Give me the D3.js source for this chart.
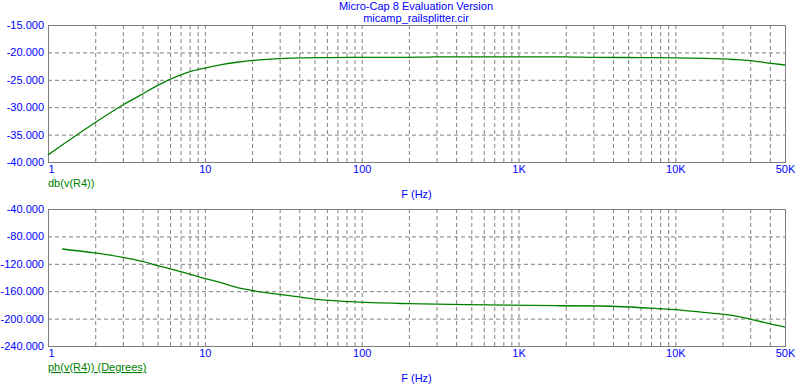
<!DOCTYPE html>
<html>
<head>
<meta charset="utf-8">
<script src="https://cdn.jsdelivr.net/npm/d3@7"></script>
<style>
  body { margin: 0; background: #fff; }
  svg text { font-family: "Liberation Sans", Arial, sans-serif; font-size: 11px; }
</style>
</head>
<body>
<svg id="chart" width="811" height="389"></svg>
<script>
'use strict';

// magnitude trace, db(v(R4))
var magFreq = [1, 1.5, 2.15, 3, 3.86, 4.47, 5.71, 8.05, 10, 13, 16, 22.5, 35, 60, 100, 176, 300, 1000, 2000, 3000, 6000, 10000, 15100, 23500, 30000, 38400, 50000];
var magDb = [-38.7, -35.2, -32.2, -29.6, -27.85, -26.8, -25.2, -23.5, -22.85, -22.2, -21.8, -21.35, -21.05, -20.95, -20.9, -20.9, -20.8, -20.8, -20.8, -20.9, -20.95, -21.0, -21.1, -21.3, -21.5, -21.9, -22.3];

// phase trace, ph(v(R4))
var phFreq = [1.23, 2, 3, 4.06, 4.93, 6.95, 9.3, 12, 17, 20, 25, 40.5, 54.3, 84.3, 199, 468, 1755, 3314, 8000, 10000, 15100, 21300, 30000, 39700, 50000];
var phDeg = [-98.4, -104.2, -110.6, -116.9, -122.3, -131.1, -139.3, -146, -156, -159, -162.5, -168.5, -172.4, -175.3, -178.2, -179.7, -181.2, -181.6, -185.6, -187, -191, -194.3, -200.6, -207.4, -212.3];

var xTickValues = [1, 10, 100, 1000, 10000, 50000];
var xTickLabels = ["1", "10", "100", "1K", "10K", "50K"];
var magTicks = [-15, -20, -25, -30, -35, -40];
var phTicks = [-40, -80, -120, -160, -200, -240];

var svg = d3.select("#chart");
var left = 48, right = 785;
var blue = "#0000ff", green = "#008000", gray = "#808080";

var x = d3.scaleLog().domain([1, 50000]).range([left, right]);

// minor grid positions 2..9 per decade, up to 40K
var gridF = [];
[1, 10, 100, 1000, 10000].forEach(function(d) {
  for (var k = 1; k <= 9; k++) {
    var f = d * k;
    if (f > 1 && f < 50000) gridF.push(f);
  }
});

var panel = function(top, bottom, domain, ticks, freq, vals, label, underline) {
  var y = d3.scaleLinear().domain(domain).range([top, bottom]);
  var w = right - left, h = bottom - top;

  // vertical grid
  svg.append("g")
    .attr("transform", "translate(0," + bottom + ")")
    .call(d3.axisBottom(x).tickValues(gridF).tickSize(-h).tickFormat(""))
    .call(function(g) { g.select(".domain").remove(); })
    .selectAll("line")
    .attr("stroke", gray)
    .attr("stroke-dasharray", "4,3");

  // horizontal grid + y labels
  svg.append("g")
    .attr("transform", "translate(" + left + ",0)")
    .call(d3.axisLeft(y).tickValues(ticks).tickSize(-w).tickPadding(4)
      .tickFormat(function(d) { return d.toFixed(3); }))
    .call(function(g) {
      g.select(".domain").remove();
      g.selectAll("line")
        .attr("stroke", gray)
        .attr("stroke-dasharray", "4,3");
      g.selectAll("text").attr("fill", blue).style("font-size", "11px")
        .style("font-family", '"Liberation Sans", Arial, sans-serif');
    });

  // frame
  svg.append("rect")
    .attr("x", left + 0.5).attr("y", top + 0.5)
    .attr("width", w).attr("height", h)
    .attr("fill", "none").attr("stroke", gray);

  // x labels
  svg.append("g")
    .attr("transform", "translate(0," + bottom + ")")
    .call(d3.axisBottom(x).tickValues(xTickValues).tickSize(0).tickPadding(3)
      .tickFormat(function(d, i) { return xTickLabels[i]; }))
    .call(function(g) {
      g.select(".domain").remove();
      g.selectAll("text").attr("fill", blue).style("font-size", "11px")
        .style("font-family", '"Liberation Sans", Arial, sans-serif');
      g.selectAll("text").filter(function(d, i) { return i === 0; })
        .attr("text-anchor", "start").attr("x", 0);
    });

  var line = d3.line()
    .x(function(d) { return x(d[0]); })
    .y(function(d) { return y(d[1]); })
    .curve(d3.curveMonotoneX);

  svg.append("path")
    .datum(d3.zip(freq, vals))
    .attr("d", line)
    .attr("fill", "none")
    .attr("stroke", green)
    .attr("stroke-width", 1.3);

  svg.append("text")
    .attr("x", left).attr("y", bottom + 25)
    .attr("fill", green)
    .style("text-decoration", underline ? "underline" : "none")
    .text(label);

  svg.append("text")
    .attr("x", (left + right) / 2).attr("y", bottom + 35.5)
    .attr("text-anchor", "middle")
    .attr("fill", blue)
    .text("F (Hz)");
};

svg.append("text").attr("x", 416).attr("y", 9.5).attr("text-anchor", "middle")
  .attr("fill", blue).text("Micro-Cap 8 Evaluation Version");
svg.append("text").attr("x", 416).attr("y", 21.5).attr("text-anchor", "middle")
  .attr("fill", blue).text("micamp_railsplitter.cir");

panel(25, 162, [-15, -40], magTicks, magFreq, magDb, "db(v(R4))", false);
panel(209, 346, [-40, -240], phTicks, phFreq, phDeg, "ph(v(R4)) (Degrees)", true);
</script>
</body>
</html>
